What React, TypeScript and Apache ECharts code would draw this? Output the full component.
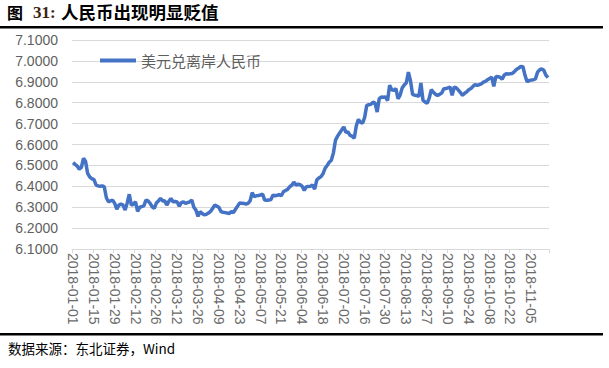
import React, { useEffect, useRef } from "react";
import * as echarts from "echarts";

const titleLead = "图";
const titleNum = "31:";
const titleMain = "人民币出现明显贬值";
const sourceText = "数据来源：东北证券，Wind";
const seriesName = "美元兑离岸人民币";

const yTicks = [6.1, 6.2, 6.3, 6.4, 6.5, 6.6, 6.7, 6.8, 6.9, 7.0, 7.1];

const usdCnh = [
  6.513, 6.505, 6.497, 6.482, 6.490, 6.534, 6.520, 6.462, 6.445, 6.436,
  6.433, 6.408, 6.402, 6.400, 6.402, 6.397, 6.345, 6.326, 6.330, 6.334,
  6.318, 6.291, 6.310, 6.315, 6.310, 6.286, 6.320, 6.362, 6.310, 6.315,
  6.326, 6.280, 6.300, 6.303, 6.306, 6.334, 6.330, 6.318, 6.302, 6.294,
  6.320, 6.330, 6.342, 6.330, 6.331, 6.310, 6.328, 6.342, 6.326, 6.327,
  6.325, 6.305, 6.322, 6.326, 6.318, 6.322, 6.326, 6.334, 6.300, 6.286,
  6.256, 6.279, 6.270, 6.263, 6.266, 6.272, 6.280, 6.294, 6.310, 6.305,
  6.300, 6.279, 6.276, 6.274, 6.272, 6.270, 6.279, 6.274, 6.290, 6.305,
  6.320, 6.319, 6.318, 6.315, 6.318, 6.330, 6.370, 6.350, 6.355, 6.356,
  6.358, 6.363, 6.334, 6.333, 6.334, 6.337, 6.358, 6.355, 6.357, 6.360,
  6.355, 6.374, 6.380, 6.385, 6.398, 6.405, 6.420, 6.406, 6.410, 6.408,
  6.400, 6.380, 6.398, 6.399, 6.400, 6.406, 6.386, 6.430, 6.440, 6.446,
  6.460, 6.486, 6.500, 6.515, 6.525, 6.560, 6.620, 6.640, 6.655, 6.670,
  6.684, 6.658, 6.660, 6.644, 6.640, 6.630, 6.690, 6.720, 6.706, 6.702,
  6.730, 6.787, 6.790, 6.792, 6.803, 6.798, 6.755, 6.819, 6.827, 6.826,
  6.828, 6.810, 6.883, 6.862, 6.859, 6.867, 6.819, 6.835, 6.870, 6.885,
  6.895, 6.946, 6.905, 6.840, 6.836, 6.835, 6.830, 6.894, 6.812, 6.803,
  6.797, 6.822, 6.862, 6.850, 6.840, 6.835, 6.840, 6.846, 6.867, 6.868,
  6.871, 6.875, 6.835, 6.875, 6.871, 6.860, 6.848, 6.835, 6.845, 6.852,
  6.862, 6.868, 6.878, 6.887, 6.883, 6.886, 6.890, 6.898, 6.902, 6.910,
  6.916, 6.922, 6.878, 6.925, 6.924, 6.922, 6.912, 6.932, 6.938, 6.937,
  6.938, 6.941, 6.950, 6.960, 6.966, 6.973, 6.972, 6.930, 6.900, 6.906,
  6.908, 6.910, 6.914, 6.946, 6.957, 6.962, 6.955, 6.932, 6.920,
];

// weekday dates starting 2018-01-01, one per data point
function weekdayDates(startY: number, startM: number, startD: number, count: number): string[] {
  const out: string[] = [];
  const d = new Date(Date.UTC(startY, startM - 1, startD));
  while (out.length < count) {
    const wd = d.getUTCDay();
    if (wd !== 0 && wd !== 6) {
      const mm = String(d.getUTCMonth() + 1).padStart(2, "0");
      const dd = String(d.getUTCDate()).padStart(2, "0");
      out.push(`${d.getUTCFullYear()}-${mm}-${dd}`);
    }
    d.setUTCDate(d.getUTCDate() + 1);
  }
  return out;
}
const dates = weekdayDates(2018, 1, 1, usdCnh.length);

export default function App() {
  const ref = useRef<HTMLDivElement>(null);
  useEffect(() => {
    document.body.style.margin = "0";
    if (!ref.current) return;
    const chart = echarts.init(ref.current, undefined, { renderer: "svg" });
    const gray = "#5f5f5f";
    const titleFont = "Noto Sans CJK SC";
    chart.setOption({
      animation: false,
      backgroundColor: "#ffffff",
      grid: { left: 72, right: 60, top: 40, bottom: 119, containLabel: false },
      legend: {
        data: [seriesName],
        left: 95,
        top: 48,
        icon: "rect",
        itemWidth: 36,
        itemHeight: 4,
        itemGap: 10,
        textStyle: { color: gray, fontSize: 15, fontFamily: "Noto Sans CJK SC" },
      },
      xAxis: {
        type: "category",
        data: dates,
        boundaryGap: true,
        axisLine: { show: true, lineStyle: { color: "#d9d9d9", width: 1 } },
        axisTick: { show: true, interval: 9, length: 4, lineStyle: { color: "#d9d9d9" } },
        axisLabel: {
          interval: 9,
          rotate: -90,
          margin: 4,
          color: "#6a6a6a",
          fontSize: 14,
          fontFamily: "Liberation Sans",
        },
        splitLine: { show: false },
      },
      yAxis: {
        type: "value",
        min: yTicks[0],
        max: yTicks[yTicks.length - 1],
        interval: 0.1,
        axisLine: { show: false },
        axisTick: { show: false },
        axisLabel: {
          color: gray,
          fontSize: 14,
          margin: 14,
          fontFamily: "Liberation Sans",
          formatter: (v: number) => v.toFixed(4),
        },
        splitLine: { show: true, lineStyle: { color: "#d9d9d9", width: 1 } },
      },
      series: [
        {
          name: seriesName,
          type: "line",
          data: usdCnh,
          showSymbol: false,
          symbol: "none",
          lineStyle: { color: "#4472C4", width: 3.5 },
          itemStyle: { color: "#4472C4" },
        },
      ],
      graphic: [
        {
          type: "text",
          left: 7,
          top: 4,
          style: { text: titleLead, fontSize: 16, fontWeight: "bold", fontFamily: titleFont, fill: "#000" },
        },
        {
          type: "text",
          left: 33,
          top: 4,
          style: { text: titleNum, fontSize: 17, fontWeight: "bold", fontFamily: "Liberation Serif", fill: "#3d2410" },
        },
        {
          type: "text",
          left: 61,
          top: 3,
          style: { text: titleMain, fontSize: 17.5, fontWeight: "bold", fontFamily: titleFont, fill: "#000" },
        },
        { type: "rect", shape: { x: 0, y: 26, width: 603, height: 2.5 }, style: { fill: "#000" } },
        { type: "rect", shape: { x: 0, y: 333, width: 603, height: 2.5 }, style: { fill: "#000" } },
        {
          type: "text",
          left: 8,
          top: 341,
          style: { text: sourceText, fontSize: 13.5, fontFamily: "Noto Sans CJK SC", fill: "#000" },
        },
      ],
    });
    return () => chart.dispose();
  }, []);
  return <div ref={ref} style={{ width: 609, height: 368 }} />;
}
